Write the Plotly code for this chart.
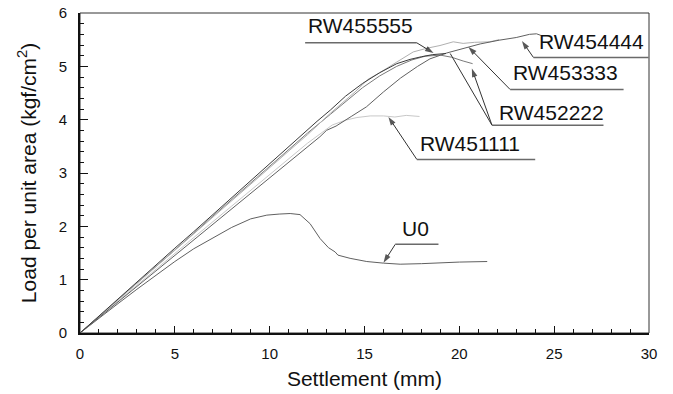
import plotly.graph_objects as go

# ---------------- data ----------------
u0_x = [0, 1, 2, 3, 4, 5, 6, 7, 8, 9, 9.85, 10.5, 11.08, 11.6, 12.13, 12.66, 13.1, 13.45, 13.6, 14.24, 15.12, 16.0, 16.88, 18.0, 19.15, 20.0, 21.47]
u0_y = [0, 0.28, 0.55, 0.82, 1.08, 1.34, 1.58, 1.78, 1.98, 2.14, 2.21, 2.23, 2.24, 2.22, 2.05, 1.77, 1.6, 1.52, 1.46, 1.40, 1.34, 1.31, 1.29, 1.30, 1.32, 1.33, 1.34]

rw1_x = [0, 2, 4, 6, 8, 10, 12, 13.3, 14.0, 14.6, 15.3, 16.0, 16.6, 17.2, 17.9]
rw1_y = [0, 0.60, 1.19, 1.79, 2.38, 2.97, 3.56, 3.90, 3.99, 4.04, 4.07, 4.07, 4.05, 4.08, 4.06]

rw2_x = [0, 1, 2, 3, 4, 5, 6, 7, 8, 9, 10, 11, 12, 13.2, 14.0, 14.9, 15.8, 16.7, 17.5, 18.2, 19.0, 19.6, 20.2, 20.7]
rw2_y = [0, 0.31, 0.63, 0.94, 1.25, 1.56, 1.87, 2.19, 2.50, 2.81, 3.12, 3.43, 3.75, 4.10, 4.34, 4.60, 4.82, 5.00, 5.12, 5.19, 5.21, 5.17, 5.10, 5.05]

rw3_x = [0, 1, 2, 3, 4, 5, 6, 7, 8, 9, 10, 11, 12, 13.2, 14.5, 15.2, 15.8, 16.7, 17.57, 18.3, 18.98, 19.68, 20.2, 20.8, 21.6, 22.1]
rw3_y = [0, 0.31, 0.62, 0.93, 1.24, 1.55, 1.86, 2.17, 2.48, 2.79, 3.10, 3.41, 3.72, 4.12, 4.52, 4.76, 4.88, 5.08, 5.27, 5.34, 5.39, 5.46, 5.43, 5.45, 5.46, 5.50]

rw4_x = [0, 2, 4, 6, 6.85, 8, 10, 12, 12.65, 13.0, 13.5, 14.3, 15.1, 16.0, 16.9, 17.8, 18.45, 19.33, 20.2, 21.1, 22.1, 23.0, 23.7, 24.07, 24.3]
rw4_y = [0, 0.58, 1.16, 1.74, 1.99, 2.32, 2.90, 3.49, 3.68, 3.80, 3.88, 4.06, 4.24, 4.52, 4.78, 5.00, 5.14, 5.25, 5.34, 5.42, 5.49, 5.54, 5.60, 5.61, 5.58]

rw5_x = [0, 1, 2, 3, 4, 5, 6, 7, 8, 9, 10, 11, 11.8, 12.5, 13.2, 14.0, 14.9, 15.8, 16.7, 17.4, 18.0, 18.6, 19.3]
rw5_y = [0, 0.32, 0.64, 0.96, 1.28, 1.59, 1.90, 2.22, 2.54, 2.86, 3.17, 3.49, 3.74, 3.97, 4.18, 4.44, 4.68, 4.88, 5.05, 5.13, 5.18, 5.22, 5.24]

series = [
    ("U0", u0_x, u0_y, "#606060"),
    ("RW451111", rw1_x, rw1_y, "#c8c8c8"),
    ("RW452222", rw2_x, rw2_y, "#7a7a7a"),
    ("RW453333", rw3_x, rw3_y, "#b0b0b0"),
    ("RW454444", rw4_x, rw4_y, "#606060"),
    ("RW455555", rw5_x, rw5_y, "#3a3a3a"),
]

# label: (text, text_x, text_y, line_x0, line_x1, line_y, tail_x, arrow_x, arrow_y)
labels = [
    ("RW455555", 14.77, 5.77, 11.87, 17.76, 5.44, 17.76, 18.64, 5.25),
    ("RW454444", 26.96, 5.47, 23.91, 29.98, 5.165, 23.91, 23.30, 5.476),
    ("RW453333", 25.58, 4.89, 22.68, 28.66, 4.565, 22.68, 20.48, 5.364),
    ("RW452222", 24.85, 4.14, 21.72, 27.60, 3.897, 21.72, 20.66, 4.959),
    ("RW451111", 20.57, 3.56, 17.76, 24.00, 3.254, 17.76, 16.26, 4.052),
    ("U0", 17.67, 1.967, 16.62, 18.90, 1.662, 16.62, 16.00, 1.317),
]
extra_leader_x = [21.72, 19.52]
extra_leader_y = [3.897, 5.24]

FONT = "Liberation Sans, Arial, sans-serif"

fig = go.Figure()
for name, xs, ys, col in series:
    fig.add_trace(go.Scatter(x=xs, y=ys, mode="lines", name=name,
                             line=dict(color=col, width=1), showlegend=False,
                             hoverinfo="skip"))

shapes = []
annotations = []
for text, tx, ty, lx0, lx1, ly, tailx, axp, ayp in labels:
    annotations.append(dict(x=tx, y=ty, xref="x", yref="y", text=text, showarrow=False,
                            font=dict(family=FONT, size=21, color="#111111")))
    shapes.append(dict(type="line", xref="x", yref="y", x0=lx0, x1=lx1, y0=ly, y1=ly,
                       line=dict(color="#6a6a6a", width=1.5)))
    fig.add_trace(go.Scatter(x=[tailx, axp], y=[ly, ayp], mode="lines+markers",
                             line=dict(color="#333333", width=1),
                             marker=dict(symbol=["circle", "arrow"], size=[0, 9],
                                         angleref="previous", color="#111111",
                                         line=dict(width=0)),
                             showlegend=False, hoverinfo="skip"))
fig.add_trace(go.Scatter(x=extra_leader_x, y=extra_leader_y, mode="lines",
                         line=dict(color="#333333", width=1),
                         showlegend=False, hoverinfo="skip"))
# frame (top/right)
shapes.append(dict(type="rect", xref="paper", yref="paper", x0=0, x1=1, y0=0, y1=1,
                   line=dict(color="#333333", width=1), layer="below"))

fig.update_layout(
    width=673, height=394,
    margin=dict(l=80, r=24, t=13, b=61, autoexpand=False),
    paper_bgcolor="white", plot_bgcolor="white",
    font=dict(family=FONT, color="#111111"),
    shapes=shapes, annotations=annotations,
    xaxis=dict(range=[0, 30], tickmode="linear", tick0=0, dtick=5,
               ticks="inside", ticklen=7, tickwidth=1.2, tickcolor="#111111",
               minor=dict(dtick=1, ticks="inside", ticklen=4, tickwidth=1, tickcolor="#111111"),
               showline=True, linecolor="#111111", linewidth=2,
               showgrid=False, zeroline=False, automargin=False,
               tickfont=dict(size=15, family=FONT),
               ticklabelstandoff=6,
               title=dict(text="Settlement (mm)", font=dict(size=21, family=FONT), standoff=10)),
    yaxis=dict(range=[0, 6], tickmode="linear", tick0=0, dtick=1,
               ticks="inside", ticklen=8, tickwidth=1.2, tickcolor="#111111",
               minor=dict(dtick=0.2, ticks="inside", ticklen=4, tickwidth=1, tickcolor="#111111"),
               showline=True, linecolor="#111111", linewidth=2,
               showgrid=False, zeroline=False, automargin=False,
               tickfont=dict(size=15, family=FONT),
               ticklabelstandoff=8,
               title=dict(text="Load per unit area (kgf/cm<sup>2</sup>)", font=dict(size=21, family=FONT), standoff=16)),
)

fig.write_html("out.html")
